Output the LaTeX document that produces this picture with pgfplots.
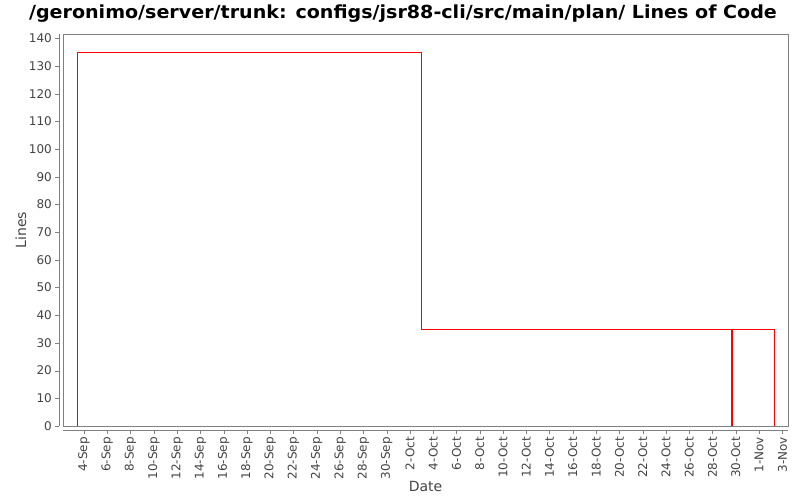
\documentclass[border=0pt]{standalone}
\usepackage{fontspec}
\setmainfont{DejaVu Sans}
\usepackage{pgfplots}
\pgfplotsset{compat=1.18}
\definecolor{txtgray}{HTML}{444444}
\definecolor{framegray}{HTML}{808080}
\begin{document}
\begin{tikzpicture}[x=1pt,y=1pt]
\path[use as bounding box] (0,0) rectangle (800,500);
\node[anchor=base, inner sep=0pt] at (403,481.5) {\scalebox{1.06}[1]{\fontsize{18}{18}\selectfont\bfseries /geronimo/server/trunk: configs/jsr88-cli/src/main/plan/ Lines of Code}};
\node[anchor=center, text=txtgray, font=\fontsize{14}{14}\selectfont] at (425.5,14) {Date};
\node[anchor=center, rotate=90, text=txtgray, font=\fontsize{14}{14}\selectfont] at (21,270) {Lines};
\begin{axis}[
  at={(63pt,74pt)}, anchor=south west,
  scale only axis, width=725pt, height=392pt,
  xmin=-1.80, xmax=60.48, ymin=0, ymax=141.6,
  axis line style={draw=none},
  xtick={0,2,...,60},
  xticklabels={4-Sep,6-Sep,8-Sep,10-Sep,12-Sep,14-Sep,16-Sep,18-Sep,20-Sep,22-Sep,24-Sep,26-Sep,28-Sep,30-Sep,2-Oct,4-Oct,6-Oct,8-Oct,10-Oct,12-Oct,14-Oct,16-Oct,18-Oct,20-Oct,22-Oct,24-Oct,26-Oct,28-Oct,30-Oct,1-Nov,3-Nov},
  ytick={0,10,...,140},
  tick align=outside, major tick length=4pt,
  xtick pos=bottom, ytick pos=left,
  xtick style={draw=framegray, yshift=-4pt},
  ytick style={draw=framegray, xshift=-4pt},
  xticklabel shift=6pt, yticklabel shift=6pt,
  xticklabel style={rotate=90, anchor=east, font=\fontsize{12}{12}\selectfont, text=txtgray, inner sep=1pt},
  yticklabel style={font=\fontsize{12}{12}\selectfont, text=txtgray, inner sep=1pt},
  /pgf/number format/assume math mode=true,
  clip=false,
  after end axis/.code={
    \draw[framegray] (rel axis cs:0,0) rectangle (rel axis cs:1,1);
    \draw[framegray] ([xshift=-4pt]rel axis cs:0,0) -- ([xshift=-4pt]rel axis cs:0,1);
    \draw[framegray] ([yshift=-4pt]rel axis cs:0,0) -- ([yshift=-4pt]rel axis cs:1,0);
  },
]
\addplot[red, line width=1pt] coordinates {
(-0.58,0) (-0.58,135) (28.98,135) (28.98,35) (55.60,35) (55.60,0) (55.69,0) (55.69,35) (59.3,35) (59.3,0)
};
\end{axis}
\end{tikzpicture}
\end{document}
